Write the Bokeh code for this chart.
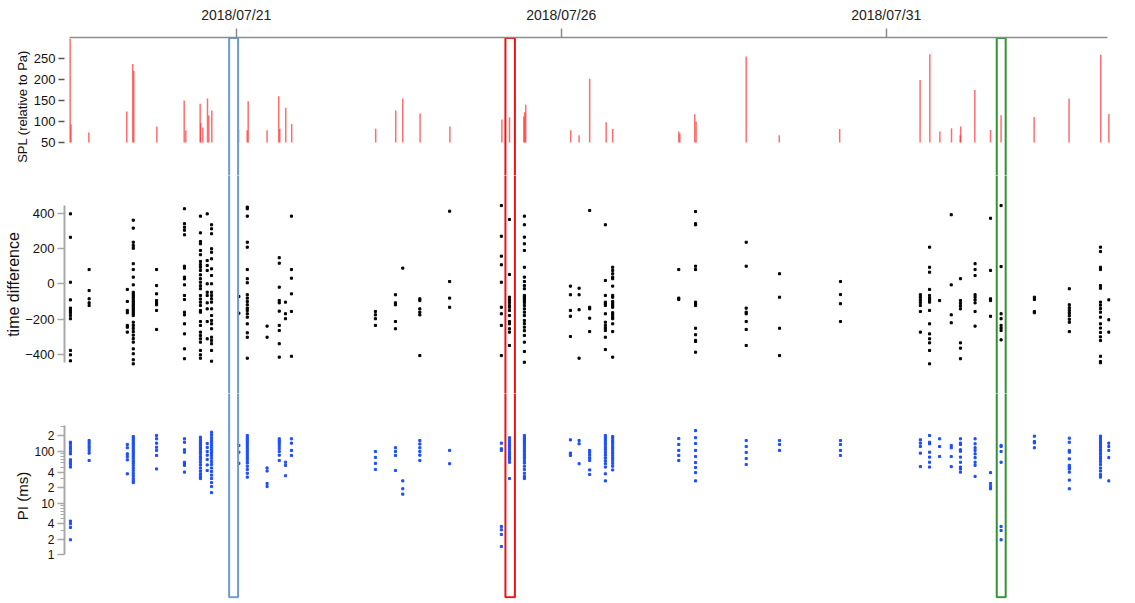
import pandas as pd
from bokeh.plotting import figure
from bokeh.layouts import column
from bokeh.models import Range1d, FixedTicker, DatetimeTickFormatter, Title, ColumnDataSource
from bokeh.embed import file_html
from bokeh.resources import INLINE

BASE = pd.Timestamp("2018-07-21 00:00")

# ---------------- data (hours relative to 2018/07/21 00:00) ----------------
spl_hours = [-61.3, -61.0, -54.4, -40.4, -38.2, -37.8, -29.3, -19.2, -18.6, -13.3, -13.1,
             -12.3, -10.6, -10.1, -9.0, 0.85, 4.06, 4.43, 11.4, 15.7, 16.1, 18.3, 20.5,
             51.5, 58.9, 61.5, 67.9, 78.9, 98.1, 100.9, 106.2, 106.5, 106.9, 123.5, 126.6,
             130.5, 136.6, 139.0, 163.4, 163.8, 169.3, 169.8, 188.3, 200.5, 222.8, 252.5,
             256.1, 259.8, 264.1, 267.3, 267.5, 272.7, 278.5, 282.4, 294.6, 307.5, 319.2, 322.2]
spl_values = [297, 93, 74, 124, 237, 220, 88, 150, 79, 142, 96,
              86, 155, 114, 126, 81, 79, 148, 79, 160, 83, 133, 94,
              83, 126, 155, 119, 88, 105, 110, 112, 122, 140, 79, 67,
              202, 98, 82, 76, 71, 117, 100, 255, 67, 82, 199,
              260, 76, 84, 67, 88, 175, 80, 115, 111, 155, 259, 118]

td_columns = {
    -61.2: [398, 265, 10, -90, -137, -150, -163, -179, -197, -377, -402, -436],
    -54.3: [82, -37, -84, -107, -122],
    -40.2: [-31, -99, -150, -163, -235, -245, -273],
    -38.0: [362, 317, 237, 218, 203, 115, 82, 39, -5, -47, -58, -69, -80, -92, -103, -114,
            -125, -136, -147, -158, -169, -179, -217, -235, -252, -270, -290, -310, -330,
            -368, -396, -430, -453],
    -29.4: [82, -9, -56, -94, -107, -118, -150, -258],
    -19.1: [427, 342, 322, 305, 279, 101, 90, 39, 29, -5, -65, -88, -160, -175, -226, -283,
            -368, -424],
    -13.2: [385, 290, 241, 228, 190, 166, 128, 110, 95, 77, 52, 30, 10, -10, -27, -65, -85,
            -103, -122, -150, -160, -213, -235, -273, -292, -311, -330, -377, -402, -421],
    -10.7: [398, 133, 105, 77, 1, -47, -65, -107, -141, -213, -311],
    -9.1: [336, 313, 285, 200, 180, 143, 86, 48, 1, -47, -65, -84, -103, -141, -179, -207,
           -226, -254, -302, -320, -339, -377, -438],
    1.0: [-71, -166],
    4.1: [436, 427, 385, 237, 209, 82, 30, 7, -61, -80, -99, -118, -137, -150, -169, -188,
          -226, -277, -302, -421],
    11.4: [-239, -302],
    15.9: [149, 118, -18, -94, -107, -154, -235, -264, -339, -415],
    18.2: [-103, -169, -197],
    20.4: [385, 82, 33, -56, -156, -410],
    51.4: [-156, -175, -197, -235],
    58.8: [-61, -107, -118, -213, -254],
    61.5: [90],
    67.8: [-84, -94, -141, -160, -175, -406],
    78.8: [413, 14, -80, -132],
    97.9: [445, 271, 158, 109, 10, -132, -169, -235, -406],
    100.9: [366, 54, -75, -90, -105, -122, -132, -150, -179, -213, -226, -254, -273, -349],
    106.4: [385, 336, 266, 228, 190, 95, 39, 14, -9, -27, -65, -75, -85, -95, -105, -122,
            -141, -160, -179, -207, -225, -245, -265, -292, -330, -383, -444],
    123.4: [-12, -61, -150, -183, -298],
    126.6: [-24, -61, -146, -421],
    130.5: [417, -132, -141, -194, -270],
    136.3: [336, 20, -65, -103, -112, -122, -169, -217, -235, -250, -264, -302, -372],
    139.0: [95, 77, 58, 39, 30, -12, -65, -75, -99, -110, -121, -132, -163, -175, -188, -197,
            -226, -270, -415],
    163.4: [82, -80, -88],
    169.6: [411, 342, 336, 101, 82, -103, -112, -122, -251, -288, -320, -326, -387],
    188.3: [237, 101, -137, -160, -169, -213, -258, -349],
    200.6: [58, -75, -251, -406],
    223.1: [14, -60, -112, -213],
    252.6: [-61, -75, -90, -105, -122, -156, -273],
    256.0: [209, 95, 67, -31, -65, -80, -90, -103, -150, -226, -283, -311, -334, -377, -453],
    259.7: [-94],
    264.0: [393, -5, -175, -220],
    267.4: [30, -94, -110, -125, -141, -334, -364, -424],
    272.8: [115, 82, 48, -61, -75, -90, -107, -156, -239],
    278.5: [373, 77, -84, -94, -183],
    282.4: [445, 99, -169, -197, -235, -250, -264, -317],
    294.7: [-75, -88, -156, -163],
    307.6: [-27, -118, -135, -150, -165, -180, -200, -217, -270],
    319.1: [209, 184, 95, 82, -9, -24, -103, -120, -140, -160, -188, -226, -250, -275, -300,
            -321, -410, -440, -447],
    322.2: [-90, -203, -273],
}

pi_columns = {
    -61.2: [151, 141, 125, 113, 101, 90, 69, 62, 56, 50, 4.5, 4.0, 3.4, 1.96],
    -54.3: [163, 147, 131, 118, 105, 93, 67],
    -40.2: [137, 118, 90, 80, 69, 37],
    -38.0: [195, 180, 165, 150, 138, 126, 115, 105, 96, 88, 80, 73, 66, 60, 54, 48, 43, 38,
            34, 30, 27, 25],
    -29.4: [204, 176, 145, 121, 105, 84, 46],
    -19.1: [176, 151, 108, 97, 62, 58, 54, 40],
    -13.2: [189, 172, 156, 142, 130, 118, 108, 98, 88, 78, 70, 62, 55, 48, 42, 37, 33, 30],
    -10.7: [143, 120, 100, 85, 70, 55, 43],
    -9.1: [236, 210, 185, 165, 148, 132, 118, 105, 94, 84, 74, 64, 56, 48, 41, 35, 30, 25,
           21, 16],
    1.0: [131, 97, 59],
    4.1: [204, 185, 168, 152, 138, 125, 113, 102, 92, 83, 75, 67, 60, 52, 45, 38, 32],
    11.4: [48, 42, 24, 21],
    15.9: [176, 160, 145, 130, 115, 100, 85, 67],
    18.2: [62, 54, 34],
    20.4: [176, 145, 105, 84],
    51.4: [100, 77, 59, 45],
    58.8: [118, 100, 84, 43],
    61.5: [27, 19, 15],
    67.8: [163, 140, 118, 100, 85, 67],
    78.8: [105, 58],
    97.9: [145, 113, 105, 3.55, 3.06, 2.48, 1.45],
    100.9: [184, 165, 148, 133, 120, 108, 97, 87, 78, 70, 62, 30],
    106.4: [204, 185, 168, 152, 138, 125, 113, 102, 92, 83, 75, 67, 60, 52, 45, 38, 33, 30],
    123.4: [168, 93, 84],
    126.6: [163, 141, 58],
    130.5: [105, 95, 85, 75, 67, 44, 36],
    136.3: [204, 185, 168, 150, 135, 120, 108, 96, 85, 75, 66, 58, 50, 37, 27],
    139.0: [195, 178, 160, 145, 130, 117, 105, 94, 84, 75, 67, 59, 52, 44],
    163.4: [178, 137, 105, 84, 67],
    169.6: [254, 185, 143, 105, 80, 61, 49, 39, 27],
    188.3: [163, 125, 96, 73, 56],
    200.6: [163, 137, 105],
    223.1: [163, 137, 105, 84],
    252.6: [168, 145, 125, 93, 51],
    256.0: [204, 151, 141, 97, 78, 62, 50],
    259.7: [176, 125, 80],
    264.0: [131, 118, 80, 51],
    267.4: [176, 145, 137, 108, 101, 78, 62, 50, 46, 40],
    272.8: [176, 141, 118, 105, 90, 76, 62, 54, 33],
    278.5: [39, 24, 21, 19],
    282.4: [131, 125, 100, 62, 3.55, 2.97, 1.96],
    294.7: [198, 156, 147, 118],
    307.6: [181, 151, 105, 97, 72, 54, 50, 46, 40, 28, 19],
    319.1: [198, 180, 163, 148, 135, 122, 110, 100, 90, 80, 72, 64, 56, 48, 42, 36, 32],
    322.2: [145, 125, 105, 76, 27],
}

box_start_hours = [-2.6, 99.4, 280.8]
box_end_hours = [0.7, 102.9, 284.1]
box_colors = ["#6b9bd2", "#ee1111", "#2f962f"]

date_ticks = ["2018-07-21", "2018-07-26", "2018-07-31"]
spl_ticks = [50, 100, 150, 200, 250]
td_ticks = [-400, -200, 0, 200, 400]
pi_ticks = [1, 2, 4, 10, 20, 40, 100, 200]
pi_minor = [3, 5, 6, 7, 8, 9, 30, 50, 60, 70, 80, 90, 300]
pi_labels = {1: "1", 2: "2", 4: "4", 10: "10", 20: "2", 40: "4", 100: "100", 200: "2"}


def to_dt(h):
    return BASE + pd.to_timedelta(h, unit="h")


def flat(cols):
    xs, ys = [], []
    for h, vals in cols.items():
        for v in vals:
            xs.append(to_dt(h))
            ys.append(v)
    return xs, ys


FONT = "Liberation Sans"
W = 1135
xr = Range1d(start=to_dt(-63.39).to_pydatetime(), end=to_dt(322.8).to_pydatetime())
common = dict(width=W, x_range=xr, output_backend="svg", toolbar_location=None,
              min_border_left=64, min_border_right=25)


def clean(p):
    p.xgrid.grid_line_color = None
    p.ygrid.grid_line_color = None
    p.outline_line_color = None
    p.background_fill_color = "white"
    p.border_fill_color = "white"


def style_y(ax, size="13px"):
    ax.major_label_text_font = FONT
    ax.major_label_text_font_size = size
    ax.major_label_text_color = "#111111"
    ax.axis_line_color = "#a8a8a8"
    ax.axis_line_width = 2
    ax.major_tick_line_color = "#a8a8a8"
    ax.major_tick_line_width = 1.5
    ax.minor_tick_line_color = "#a8a8a8"
    ax.major_tick_in = 0
    ax.major_tick_out = 7
    ax.minor_tick_in = 0
    ax.minor_tick_out = 4
    ax.major_label_standoff = 3


def boxes(p, bottom, top):
    src = ColumnDataSource(dict(
        left=[to_dt(h) for h in box_start_hours],
        right=[to_dt(h) for h in box_end_hours],
        bottom=[bottom] * 3, top=[top] * 3, color=box_colors))
    p.quad(left="left", right="right", bottom="bottom", top="top", source=src,
           fill_color=None, line_color="color", line_width=2)


def ytitle(p, text, size, offset):
    p.add_layout(Title(text=text, align="center", offset=offset, text_font=FONT,
                       text_font_size=size, text_font_style="normal",
                       text_color="#111111", standoff=2), "left")


# ---------------- panel 1 : SPL ----------------
p1 = figure(height=175, x_axis_type="datetime", x_axis_location="above",
            y_range=Range1d(-28.57, 300), min_border_top=37, min_border_bottom=0, **common)
clean(p1)
p1.segment(x0=[to_dt(h) for h in spl_hours], y0=[50] * len(spl_hours),
           x1=[to_dt(h) for h in spl_hours], y1=spl_values,
           line_color="#ff3030", line_alpha=0.7, line_width=1.5)
boxes(p1, -1e5, 298.8)
xa = p1.xaxis[0]
xa.ticker = FixedTicker(ticks=[pd.Timestamp(d).value // 10**6 for d in date_ticks])
xa.formatter = DatetimeTickFormatter(days="%Y/%m/%d", months="%Y/%m/%d", hours="%Y/%m/%d")
xa.bounds = (to_dt(-61.55).to_pydatetime(), to_dt(321.7).to_pydatetime())
xa.axis_line_color = "#8c8c8c"
xa.axis_line_width = 1.5
xa.major_tick_line_color = "#8c8c8c"
xa.major_tick_line_width = 1.5
xa.major_tick_in = 0
xa.major_tick_out = 9
xa.minor_tick_out = 0
xa.minor_tick_in = 0
xa.major_label_text_font = FONT
xa.major_label_text_font_size = "14px"
xa.major_label_text_color = "#222222"
xa.major_label_standoff = 6
ya = p1.yaxis[0]
style_y(ya, "13px")
ya.ticker = FixedTicker(ticks=spl_ticks)
ya.axis_line_color = None
ya.major_tick_line_color = "#555555"
ya.major_tick_out = 6
ytitle(p1, "SPL (relative to Pa)", "13px", 18)

# ---------------- panel 2 : time difference ----------------
p2 = figure(height=218, x_axis_location=None, y_range=Range1d(-621.3, 615.6),
            min_border_top=0, min_border_bottom=0, **common)
clean(p2)
tx, ty = flat(td_columns)
p2.scatter(tx, ty, marker="square", size=2.1, color="black")
boxes(p2, -1e5, 1e5)
ya2 = p2.yaxis[0]
style_y(ya2, "13px")
ya2.ticker = FixedTicker(ticks=td_ticks)
ya2.bounds = (-445, 445)
ya2.major_label_overrides = {-400: "\u2212400", -200: "\u2212200"}
ytitle(p2, "time difference", "16px", 3)

# ---------------- panel 3 : PI ----------------
p3 = figure(height=210, x_axis_location=None, y_axis_type="log",
            y_range=Range1d(0.1434, 1324.5), min_border_top=0, min_border_bottom=5, **common)
clean(p3)
px, py = flat(pi_columns)
p3.scatter(px, py, marker="square", size=2.1, color="#1c4dff")
boxes(p3, 0.151, 1e6)
ya3 = p3.yaxis[0]
style_y(ya3, "12px")
ya3.ticker = FixedTicker(ticks=pi_ticks, minor_ticks=pi_minor)
ya3.bounds = (1, 318)
ya3.major_label_overrides = pi_labels
ytitle(p3, "PI (ms)", "15px", 5)

layout = column(p1, p2, p3, spacing=0)
open("out.html", "w").write(file_html(layout, INLINE))
